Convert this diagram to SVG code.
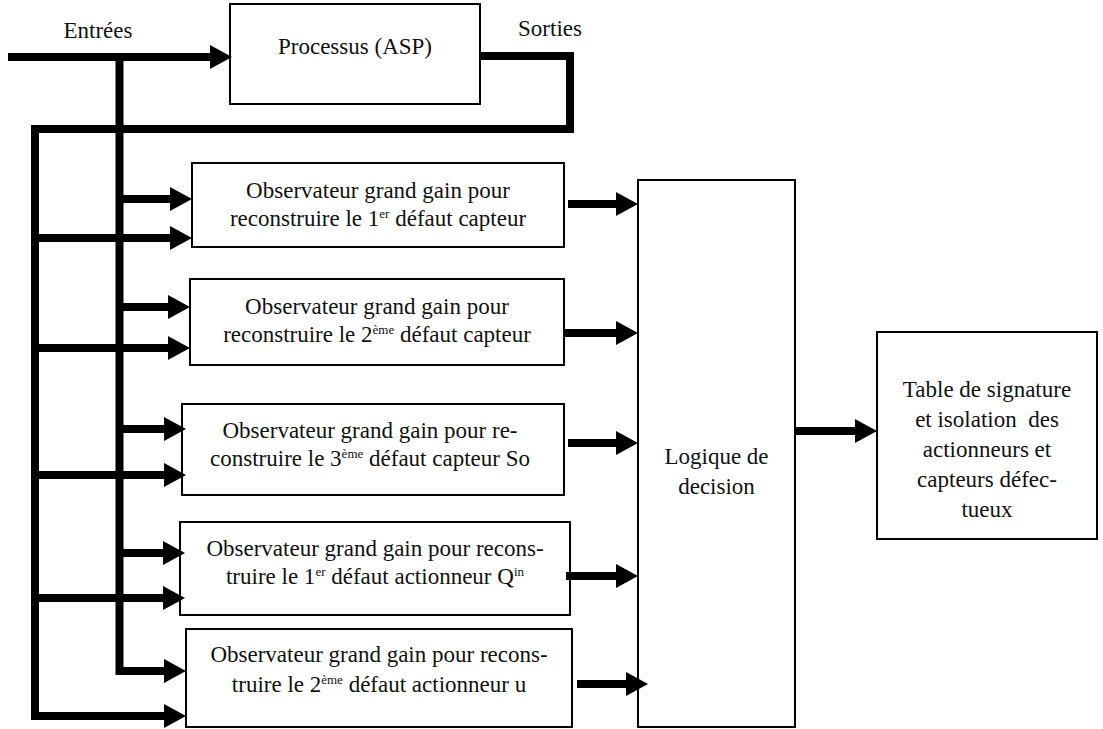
<svg xmlns="http://www.w3.org/2000/svg" width="1103" height="729" viewBox="0 0 1103 729">
<style>
.box{fill:#fff;stroke:#000;stroke-width:2}
.t{font-family:'Liberation Serif','Times New Roman','DejaVu Serif',serif;font-size:23px;fill:#111;text-anchor:middle}
.sup{font-size:13px}
.c{fill:none;stroke:#000;stroke-width:8;stroke-linejoin:miter;stroke-linecap:butt}
</style>
<defs>
<marker id="ah" markerUnits="userSpaceOnUse" markerWidth="22" markerHeight="24" refX="10" refY="12" orient="auto" viewBox="0 0 22 24">
<path d="M0,0 L22,12 L0,24 Z" fill="#000"/>
</marker>
</defs>
<rect width="1103" height="729" fill="#fff"/>

<g id="label-entrees"><text class="t" x="98" y="38" font-family="Liberation Serif">Entrées</text></g>
<g id="label-sorties"><text class="t" x="550" y="36">Sorties</text></g>

<g id="processus">
<rect class="box" x="230" y="4" width="250" height="100"/>
<text class="t" x="355" y="54">Processus (ASP)</text>
</g>

<g id="obs1">
<rect class="box" x="192" y="163" width="372" height="84"/>
<text class="t" x="378" y="198">Observateur grand gain pour</text>
<text class="t" x="378" y="226">reconstruire le 1<tspan class="sup" dy="-8">er</tspan><tspan dy="8"> défaut capteur</tspan></text>
</g>

<g id="obs2">
<rect class="box" x="190" y="279" width="374" height="86"/>
<text class="t" x="377" y="314">Observateur grand gain pour</text>
<text class="t" x="377" y="342">reconstruire le 2<tspan class="sup" dy="-8">ème</tspan><tspan dy="8"> défaut capteur</tspan></text>
</g>

<g id="obs3">
<rect class="box" x="182" y="404" width="382" height="91"/>
<text class="t" x="370" y="438">Observateur grand gain pour re-</text>
<text class="t" x="370" y="466">construire le 3<tspan class="sup" dy="-8">ème</tspan><tspan dy="8"> défaut capteur So</tspan></text>
</g>

<g id="obs4">
<rect class="box" x="180" y="522" width="390" height="93"/>
<text class="t" x="375" y="556">Observateur grand gain pour recons-</text>
<text class="t" x="375" y="584">truire le 1<tspan class="sup" dy="-8">er</tspan><tspan dy="8"> défaut actionneur Q</tspan><tspan class="sup" dy="-8">in</tspan></text>
</g>

<g id="obs5">
<rect class="box" x="186" y="629" width="386" height="98"/>
<text class="t" x="379" y="662">Observateur grand gain pour recons-</text>
<text class="t" x="379" y="692">truire le 2<tspan class="sup" dy="-8">ème</tspan><tspan dy="8"> défaut actionneur u</tspan></text>
</g>

<g id="logique">
<rect class="box" x="638" y="180" width="157" height="547"/>
<text class="t" x="716.5" y="464">Logique de</text>
<text class="t" x="716.5" y="494">decision</text>
</g>

<g id="table">
<rect class="box" x="877" y="332" width="220" height="207"/>
<text class="t" x="987" y="397">Table de signature</text>
<text class="t" x="987" y="427" xml:space="preserve">et isolation  des</text>
<text class="t" x="987" y="457">actionneurs et</text>
<text class="t" x="987" y="487">capteurs défec-</text>
<text class="t" x="987" y="517">tueux</text>
</g>

<g id="connectors">
<path class="c" d="M8,57 H220" marker-end="url(#ah)"/>
<path class="c" d="M119.5,57 V671 H174" marker-end="url(#ah)"/>
<path class="c" d="M480,56 H570 V129 H35 V716 H174" marker-end="url(#ah)"/>
<path class="c" d="M119.5,199 H180" marker-end="url(#ah)"/>
<path class="c" d="M119.5,307 H178" marker-end="url(#ah)"/>
<path class="c" d="M119.5,429 H174" marker-end="url(#ah)"/>
<path class="c" d="M119.5,553 H173" marker-end="url(#ah)"/>
<path class="c" d="M35,238 H180" marker-end="url(#ah)"/>
<path class="c" d="M35,348 H178" marker-end="url(#ah)"/>
<path class="c" d="M35,475 H174" marker-end="url(#ah)"/>
<path class="c" d="M35,598 H173" marker-end="url(#ah)"/>
<path class="c" d="M568,204 H626" marker-end="url(#ah)"/>
<path class="c" d="M565,333 H626" marker-end="url(#ah)"/>
<path class="c" d="M568,443 H626" marker-end="url(#ah)"/>
<path class="c" d="M566,576 H626" marker-end="url(#ah)"/>
<path class="c" d="M577,684 H636" marker-end="url(#ah)"/>
<path class="c" d="M795,431 H865" marker-end="url(#ah)"/>
</g>
</svg>
